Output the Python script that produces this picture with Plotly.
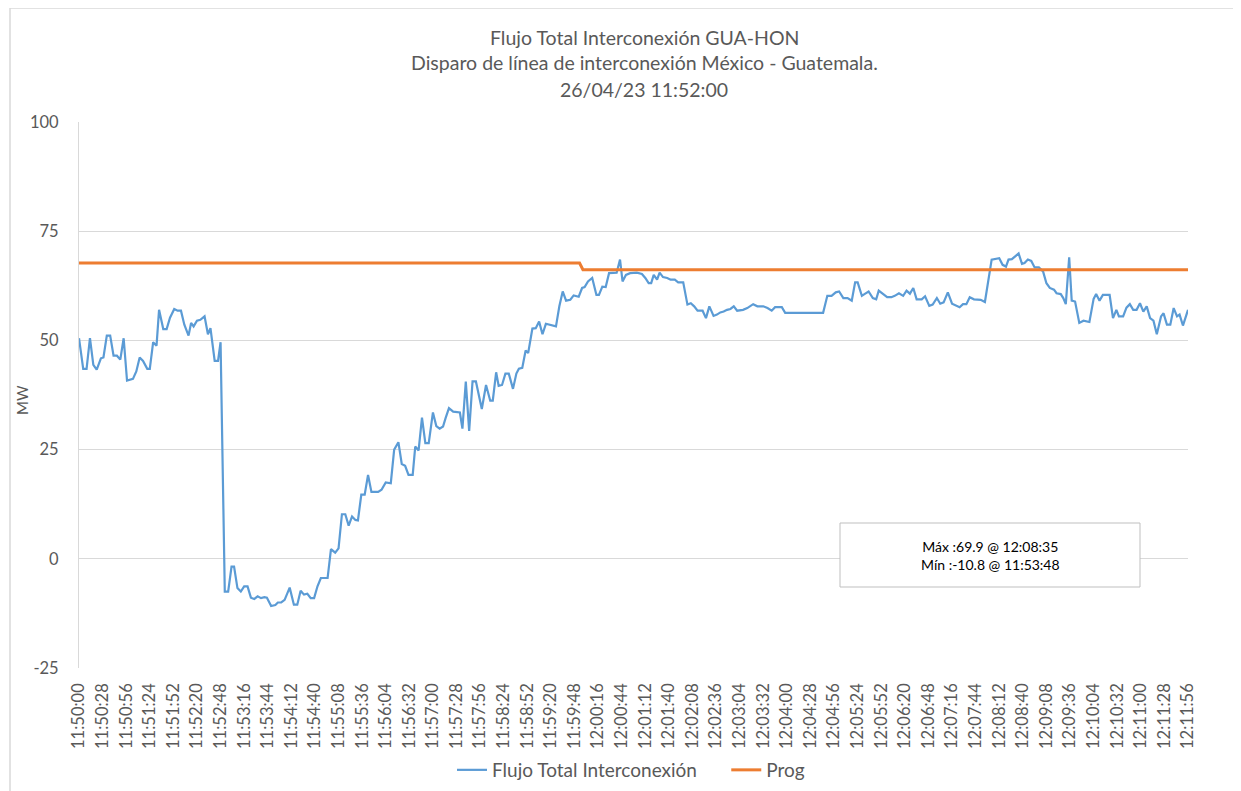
import datetime as dt
import plotly.graph_objects as go

# ---- data (seconds after 11:50:00, MW) ----
flujo_sec = [0, 5, 9, 13, 17, 21, 26, 29, 33, 37, 41, 45, 49, 53, 57, 61, 64, 68, 72, 76,
             81, 84, 88, 92, 95, 100, 104, 108, 113, 117, 121, 125, 130, 133, 136, 140, 144, 149, 153, 156,
             161, 165, 168, 173, 177, 181, 184, 188, 192, 196, 200, 204, 208, 212, 216, 220, 223, 228, 233, 236,
             240, 244, 250, 255, 259, 263, 267, 271, 275, 279, 283, 287, 295, 299, 304, 308, 312, 316, 320, 324,
             328, 331, 335, 339, 343, 347, 355, 359, 364, 370, 374, 379, 383, 387, 391, 396, 399, 403, 407, 411,
             415, 420, 424, 428, 432, 435, 439, 444, 449, 452, 455, 459, 463, 467, 471, 478, 483, 488, 491, 495,
             498, 502, 506, 510, 515, 519, 522, 526, 530, 533, 538, 542, 546, 550, 554, 558, 566, 570, 574, 578,
             583, 587, 593, 597, 600, 604, 609, 614, 617, 621, 625, 629, 634, 638, 642, 645, 649, 654, 662, 668,
             672, 676, 679, 682, 686, 689, 693, 698, 702, 707, 711, 717, 722, 726, 730, 734, 740, 744, 748, 753,
             757, 761, 765, 769, 773, 777, 781, 788, 793, 800, 805, 812, 817, 822, 826, 834, 838, 883, 888, 893,
             898, 902, 907, 912, 917, 921, 924, 929, 933, 937, 942, 946, 949, 953, 959, 964, 968, 973, 978, 982,
             986, 990, 994, 1000, 1004, 1009, 1013, 1018, 1022, 1026, 1031, 1036, 1041, 1045, 1049, 1053, 1057, 1062, 1070, 1075,
             1083, 1087, 1092, 1096, 1100, 1103, 1107, 1115, 1119, 1122, 1126, 1130, 1134, 1139, 1144, 1148, 1152, 1157, 1160, 1165,
             1168, 1171, 1175, 1178, 1182, 1187, 1192, 1199, 1204, 1207, 1211, 1215, 1223, 1227, 1231, 1234, 1239, 1243, 1247, 1251,
             1255, 1259, 1263, 1267, 1271, 1275, 1279, 1284, 1287, 1291, 1295, 1299, 1303, 1306, 1310, 1316]
flujo_mw = [50.5, 43.5, 43.5, 50.5, 44.4, 43.3, 45.9, 46.1, 51.1, 51.1, 46.5, 46.5, 45.6, 50.5, 40.8, 41.0, 41.2, 42.9, 46.1, 45.3,
            43.5, 43.5, 49.6, 48.8, 57.0, 52.6, 52.6, 55.2, 57.2, 56.8, 56.8, 53.6, 51.1, 54.0, 53.2, 54.5, 54.7, 55.5, 51.4, 52.8,
            45.3, 45.3, 49.6, -7.5, -7.5, -1.8, -1.8, -6.7, -7.5, -6.3, -6.3, -8.9, -9.2, -8.6, -9.0, -8.8, -8.9, -10.8, -10.6, -10.0,
            -10.0, -9.4, -6.6, -10.5, -10.5, -7.3, -8.2, -8.0, -9.0, -9.0, -6.3, -4.4, -4.4, 2.2, 1.4, 2.4, 10.2, 10.2, 7.6, 9.7,
            8.9, 8.8, 14.7, 14.7, 19.2, 15.3, 15.3, 15.8, 17.5, 17.3, 25.0, 26.7, 21.7, 21.3, 19.2, 19.2, 25.7, 24.8, 32.3, 26.5,
            26.5, 33.5, 30.4, 29.8, 30.3, 32.2, 34.5, 33.7, 33.6, 33.5, 29.8, 40.6, 29.3, 40.6, 40.6, 34.3, 39.8, 36.2, 36.2, 42.7,
            39.6, 39.8, 42.4, 42.4, 38.9, 42.4, 43.5, 43.7, 47.7, 47.1, 52.7, 52.8, 54.3, 51.4, 53.8, 53.6, 53.2, 57.8, 61.2, 59.1,
            59.3, 60.3, 60.0, 62.0, 62.2, 63.5, 64.3, 60.4, 60.4, 62.3, 62.2, 65.4, 65.4, 65.5, 68.5, 63.5, 65.0, 65.4, 65.5, 65.2,
            64.3, 63.1, 63.1, 65.0, 63.9, 65.5, 64.5, 64.3, 63.9, 63.9, 63.3, 63.3, 58.2, 58.5, 57.8, 56.8, 56.8, 55.1, 57.8, 55.6,
            55.9, 56.4, 56.6, 57.0, 57.2, 57.8, 56.8, 57.0, 57.4, 58.3, 57.8, 57.8, 57.4, 56.8, 57.6, 57.6, 56.3, 56.3, 60.2, 60.2,
            61.0, 61.2, 59.7, 59.7, 59.1, 63.3, 63.3, 60.2, 60.7, 61.2, 59.7, 59.4, 61.4, 60.8, 59.9, 59.9, 60.2, 60.8, 60.2, 61.4,
            60.7, 62.0, 59.4, 59.4, 60.1, 57.9, 58.2, 59.7, 58.4, 58.7, 61.0, 58.4, 57.9, 57.6, 58.3, 58.3, 59.9, 59.4, 59.3, 58.8,
            68.5, 68.7, 68.8, 67.3, 66.9, 68.5, 68.6, 69.9, 67.5, 67.7, 68.5, 68.2, 66.7, 66.7, 65.8, 63.1, 62.0, 61.6, 60.8, 60.6,
            59.7, 58.3, 69.0, 59.1, 58.9, 54.0, 54.5, 54.2, 59.5, 60.6, 59.1, 60.4, 60.4, 55.1, 57.0, 55.5, 55.5, 57.5, 58.3, 57.0,
            57.0, 58.5, 56.6, 57.8, 55.1, 54.5, 51.4, 55.5, 56.2, 53.6, 53.6, 57.4, 55.5, 55.9, 53.4, 57.0]

prog_sec = [0, 594, 598, 1316]
prog_mw = [67.7, 67.7, 66.2, 66.2]

tick_labels = ["11:50:00", "11:50:28", "11:50:56", "11:51:24", "11:51:52", "11:52:20", "11:52:48", "11:53:16",
               "11:53:44", "11:54:12", "11:54:40", "11:55:08", "11:55:36", "11:56:04", "11:56:32", "11:57:00",
               "11:57:28", "11:57:56", "11:58:24", "11:58:52", "11:59:20", "11:59:48", "12:00:16", "12:00:44",
               "12:01:12", "12:01:40", "12:02:08", "12:02:36", "12:03:04", "12:03:32", "12:04:00", "12:04:28",
               "12:04:56", "12:05:24", "12:05:52", "12:06:20", "12:06:48", "12:07:16", "12:07:44", "12:08:12",
               "12:08:40", "12:09:08", "12:09:36", "12:10:04", "12:10:32", "12:11:00", "12:11:28", "12:11:56"]
y_ticks = [-25, 0, 25, 50, 75, 100]
y_tick_labels = ["-25", "0", "25", "50", "75", "100"]

base = dt.datetime(2023, 4, 26, 11, 50, 0)
def to_time(secs):
    return [base + dt.timedelta(seconds=s) for s in secs]

tick_vals = [dt.datetime.combine(base.date(), dt.time.fromisoformat(t)) for t in tick_labels]

FONT = "Lato"
GRAY = "#595959"
GRID = "#d9d9d9"
NBSP = "\u00a0"

fig = go.Figure()
fig.add_trace(go.Scatter(x=to_time(flujo_sec), y=flujo_mw, mode="lines",
                         name="Flujo Total Interconexión" + NBSP * 5,
                         line=dict(color="#5B9BD5", width=2.2)))
fig.add_trace(go.Scatter(x=to_time(prog_sec), y=prog_mw, mode="lines",
                         name="Prog", line=dict(color="#ED7D31", width=3)))

# page body has an 8px margin; screen coords = figure coords + 8
OFF = 8
W, H = 1241 - OFF, 791 - OFF
PL, PR, PT, PB = 79, 1188, 122, 668   # plot area in screen pixels
L, T = PL - OFF, PT - OFF
R = W - (PR - OFF)
B = H - (PB - OFF)
pw, ph = PR - PL, PB - PT

def px(xp):
    return (xp - PL) / pw
def py(yp):
    return (PB - yp) / ph

fig.update_layout(
    width=W, height=H,
    margin=dict(l=L, r=R, t=T, b=B, pad=0, autoexpand=False),
    paper_bgcolor="white", plot_bgcolor="white",
    font=dict(family=FONT, color=GRAY, size=16),
    showlegend=True,
    legend=dict(orientation="h", x=px(460 - 8), xanchor="left", y=py(770), yanchor="middle",
                font=dict(size=19, color=GRAY), itemwidth=30, tracegroupgap=0),
    hovermode=False,
)

fig.update_xaxes(type="date", range=[tick_vals[0], tick_vals[-1]], automargin=False,
                 tickmode="array", tickvals=tick_vals, ticktext=tick_labels,
                 tickangle=-90, tickfont=dict(size=16.5, color=GRAY, family=FONT),
                 showgrid=False, zeroline=False, showline=False, ticks="",
                 ticklabelstandoff=11)
fig.update_yaxes(range=[-25, 100], tickmode="array", tickvals=y_ticks, ticktext=y_tick_labels,
                 automargin=False,
                 tickfont=dict(size=16.5, color=GRAY, family=FONT),
                 showgrid=True, gridcolor=GRID, gridwidth=1, zeroline=False,
                 showline=True, linecolor=GRID, linewidth=1, ticks="",
                 ticklabelstandoff=16)

# y-axis title
fig.add_annotation(text="MW", xref="paper", yref="paper", x=px(22), y=py(400), textangle=-90,
                   xanchor="center", yanchor="middle", showarrow=False,
                   font=dict(size=15, color=GRAY, family=FONT))

# titles
titles = ["Flujo Total Interconexión GUA-HON",
          "Disparo de línea de interconexión México - Guatemala.",
          "26/04/23 11:52:00"]
for i, t in enumerate(titles):
    fig.add_annotation(text=t, xref="paper", yref="paper", x=px(644), y=py(37 + 26 * i),
                       xanchor="center", yanchor="middle", showarrow=False,
                       font=dict(size=19.5, color=GRAY, family=FONT))

# max/min box
fig.add_shape(type="rect", xref="paper", yref="paper", x0=px(840), x1=px(1140), y0=py(587), y1=py(523),
              line=dict(color="#bfbfbf", width=1), fillcolor="white", layer="above")
fig.add_annotation(text="Máx :69.9 @ 12:08:35<br>Mín :-10.8 @ 11:53:48", xref="paper", yref="paper",
                   x=px(990), y=py(555.5), xanchor="center", yanchor="middle", showarrow=False,
                   align="center", font=dict(size=14, color="#000000", family=FONT))

# outer chart border (left and top)
fig.add_shape(type="line", xref="paper", yref="paper", x0=px(10), x1=px(10), y0=py(8), y1=py(800),
              line=dict(color=GRID, width=1.5))
fig.add_shape(type="line", xref="paper", yref="paper", x0=px(10), x1=px(1250), y0=py(8), y1=py(8),
              line=dict(color=GRID, width=1.5))

fig.write_html("out.html")
